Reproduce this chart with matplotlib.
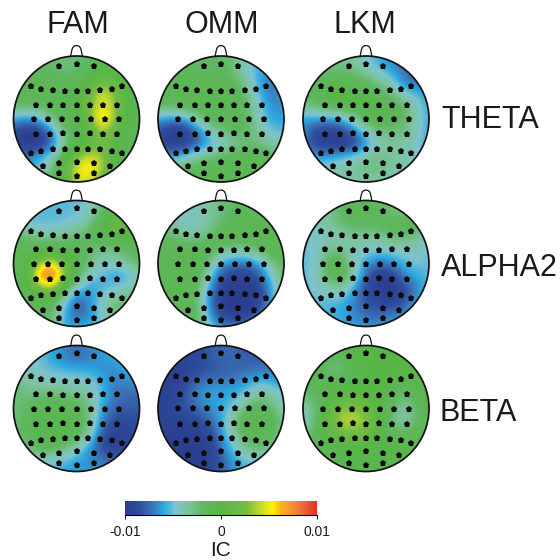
import numpy as np
import matplotlib
matplotlib.use("Agg")
import matplotlib.pyplot as plt
from matplotlib.colors import LinearSegmentedColormap, Normalize
from matplotlib.cm import ScalarMappable
from matplotlib.patches import Circle, PathPatch
from matplotlib.path import Path

plt.rcParams['font.family'] = ['Liberation Sans', 'DejaVu Sans']

conditions = ["FAM", "OMM", "LKM"]
bands = ["THETA", "ALPHA2", "BETA"]

# Electrode positions on the unit head
elec_x = [-.27,0,.27,
          -.72,-.56,-.38,-.18,0,.18,.38,.56,.72,
          -.65,-.42,-.21,0,.21,.42,.65,
          -.68,-.45,-.23,0,.23,.45,.68,
          -.65,-.42,-.21,0,.21,.42,.65,
          -.72,-.56,-.38,-.18,0,.18,.38,.56,.72,
          -.53,-.27,0,.27,.53,
          -.27,0,.27]
elec_y = [.84,.88,.84,
          .52,.47,.46,.44,.44,.44,.46,.47,.52,
          .23,.23,.22,.22,.22,.23,.23,
          0,0,0,0,0,0,0,
          -.24,-.24,-.23,-.24,-.23,-.24,-.24,
          -.54,-.50,-.48,-.47,-.47,-.47,-.48,-.50,-.54,
          -.74,-.70,-.68,-.70,-.74,
          -.86,-.90,-.86]

# Scalp readings by colour; rows run from front (top) to back, columns left to right
theta_fam = [
 [-.2,-.2,-.2,-.2,-.2,-.2,-.15,-.1,-.1,-.1,-.1],
 [-.15,-.15,-.15,-.15,-.2,-.2,-.1,-.05,-.1,-.1,-.1],
 [-.1,-.1,-.1,-.1,-.15,-.1,-.05,.15,.05,-.1,-.1],
 [-.1,-.1,-.1,-.1,-.1,-.05,.1,.4,.2,-.05,-.1],
 [-.15,-.15,-.15,-.1,-.1,-.05,.15,.45,.25,-.05,-.1],
 [-.45,-.55,-.45,-.2,-.1,-.05,.15,.62,.25,-.05,-.1],
 [-.8,-1,-.95,-.6,-.2,-.1,0,.3,.1,-.1,-.1],
 [-.85,-1,-1,-.7,-.25,-.05,.05,.15,0,-.1,-.1],
 [-.7,-.65,-.5,-.35,-.1,.15,.38,.25,0,-.1,-.1],
 [-.55,-.5,-.4,-.2,.05,.45,.55,.3,0,-.1,-.1],
 [-.4,-.4,-.3,-.15,0,.3,.35,.1,-.05,-.1,-.1]]
theta_omm = [
 [-.2,-.2,-.2,-.2,-.15,-.15,-.2,-.3,-.4,-.45,-.5],
 [-.15,-.15,-.15,-.15,-.15,-.15,-.2,-.35,-.45,-.5,-.5],
 [-.1,-.1,-.1,-.1,-.1,-.1,-.15,-.25,-.55,-.65,-.65],
 [-.1,-.1,-.1,-.1,-.1,-.1,-.1,-.2,-.45,-.65,-.6],
 [-.15,-.15,-.1,-.1,-.1,-.1,-.1,-.15,-.35,-.6,-.55],
 [-.45,-.55,-.5,-.25,-.1,-.1,-.1,-.15,-.3,-.55,-.5],
 [-.8,-1,-1,-.7,-.35,-.2,-.15,-.15,-.25,-.4,-.4],
 [-.85,-1,-.95,-.75,-.5,-.35,-.25,-.2,-.2,-.25,-.3],
 [-.55,-.5,-.4,-.25,-.2,-.15,-.1,-.1,-.1,-.15,-.2],
 [-.3,-.2,-.15,-.1,-.1,-.1,-.1,-.1,-.1,-.1,-.15],
 [-.2,-.15,-.15,-.1,-.1,-.1,-.1,-.1,-.1,-.1,-.1]]
theta_lkm = [
 [-.25,-.25,-.25,-.25,-.28,-.35,-.5,-.6,-.65,-.65,-.65],
 [-.2,-.2,-.2,-.2,-.22,-.3,-.42,-.55,-.7,-.7,-.7],
 [-.15,-.1,-.1,-.1,-.12,-.15,-.25,-.35,-.65,-.7,-.7],
 [-.15,-.1,-.05,.05,-.05,-.05,-.1,-.2,-.35,-.45,-.55],
 [-.25,-.15,-.1,-.05,-.05,-.05,-.05,-.1,-.15,-.3,-.5],
 [-.5,-.5,-.5,-.45,-.25,-.1,-.05,-.1,-.15,-.3,-.5],
 [-.6,-.85,-.9,-.85,-.65,-.3,-.2,-.2,-.2,-.3,-.5],
 [-.6,-.9,-1,-1,-.9,-.55,-.3,-.25,-.25,-.35,-.5],
 [-.5,-.5,-.5,-.45,-.35,-.25,-.2,-.25,-.25,-.35,-.45],
 [-.4,-.35,-.3,-.25,-.22,-.2,-.2,-.25,-.3,-.35,-.4],
 [-.4,-.35,-.3,-.28,-.28,-.28,-.28,-.3,-.35,-.4,-.4]]
alpha_fam = [
 [-.4,-.4,-.4,-.4,-.4,-.4,-.35,-.2,-.15,-.15,-.15],
 [-.4,-.4,-.4,-.42,-.42,-.4,-.3,-.15,-.05,-.1,-.1],
 [-.3,-.35,-.4,-.4,-.35,-.3,-.2,-.05,.2,.1,-.05],
 [-.1,-.15,-.2,-.2,-.2,-.15,-.15,-.1,-.05,-.05,-.1],
 [-.1,-.1,-.1,-.05,-.1,-.1,-.15,-.25,-.2,-.15,-.1],
 [-.1,-.1,.2,.55,.1,-.1,-.2,-.3,-.3,-.25,-.15],
 [-.1,-.1,.7,.95,.3,-.1,-.35,-.4,-.55,-.5,-.3],
 [-.1,-.1,.1,.28,-.1,-.35,-.55,-.45,-.35,-.3,-.2],
 [-.15,-.1,-.1,-.1,-.3,-.75,-.6,-.3,-.2,-.15,-.15],
 [-.2,-.15,-.1,-.15,-.45,-.75,-.6,-.35,-.2,-.2,-.2],
 [-.3,-.3,-.2,-.2,-.45,-.5,-.45,-.35,-.25,-.2,-.2]]
alpha_omm = [
 [-.3,-.3,-.3,-.3,-.25,-.2,-.15,-.15,-.15,-.15,-.15],
 [-.3,-.3,-.3,-.3,-.25,-.2,-.15,-.1,-.1,-.1,-.1],
 [-.2,-.25,-.3,-.35,-.25,-.15,-.1,-.1,-.1,-.1,-.1],
 [-.15,-.15,-.2,-.2,-.15,-.1,-.1,-.1,-.1,-.1,-.1],
 [-.15,-.1,-.1,-.1,-.1,-.2,-.25,-.25,-.15,-.1,-.1],
 [-.15,-.1,-.05,-.05,-.2,-.55,-.65,-.65,-.55,-.2,-.15],
 [-.15,-.1,-.05,-.05,-.3,-.8,-.9,-.95,-.75,-.35,-.15],
 [-.15,-.1,-.1,-.1,-.5,-.95,-1,-1,-.9,-.45,-.2],
 [-.2,-.1,-.1,-.15,-.6,-.95,-1,-1,-.95,-.45,-.2],
 [-.25,-.15,-.1,-.1,-.5,-.9,-1,-.95,-.75,-.3,-.2],
 [-.25,-.2,-.15,-.15,-.3,-.55,-.6,-.55,-.4,-.2,-.2]]
alpha_lkm = [
 [-.3,-.3,-.3,-.2,-.12,-.1,-.15,-.2,-.2,-.2,-.2],
 [-.35,-.3,-.25,-.12,-.1,-.1,-.15,-.2,-.2,-.2,-.25],
 [-.35,-.3,-.25,-.2,-.15,-.15,-.15,-.1,-.05,-.1,-.25],
 [-.35,-.35,-.3,-.3,-.25,-.25,-.25,-.2,-.2,-.25,-.35],
 [-.4,-.35,-.2,-.2,-.3,-.35,-.35,-.35,-.3,-.3,-.4],
 [-.4,-.35,-.1,-.1,-.3,-.5,-.7,-.6,-.45,-.35,-.4],
 [-.4,-.35,-.1,-.05,-.25,-.75,-1,-.95,-.6,-.5,-.4],
 [-.4,-.35,-.3,-.25,-.5,-.85,-.95,-1,-.85,-.6,-.4],
 [-.4,-.4,-.4,-.45,-.6,-.8,-.85,-.95,-.8,-.5,-.4],
 [-.4,-.4,-.45,-.5,-.6,-.7,-.7,-.65,-.55,-.45,-.4],
 [-.4,-.4,-.4,-.45,-.5,-.55,-.55,-.5,-.45,-.4,-.4]]
beta_fam = [
 [-.4,-.4,-.4,-.48,-.58,-.68,-.62,-.52,-.45,-.45,-.45],
 [-.32,-.32,-.36,-.5,-.62,-.7,-.62,-.55,-.5,-.45,-.45],
 [-.28,-.32,-.36,-.4,-.42,-.45,-.48,-.58,-.6,-.5,-.45],
 [-.2,-.22,-.28,-.28,-.3,-.3,-.32,-.42,-.65,-.6,-.55],
 [-.2,-.2,-.18,-.15,-.18,-.2,-.25,-.45,-.65,-.7,-.7],
 [-.2,-.15,-.1,-.08,-.08,-.1,-.2,-.5,-.7,-.75,-.75],
 [-.2,-.15,-.05,-.05,-.05,-.1,-.2,-.6,-.85,-.85,-.8],
 [-.2,-.12,-.03,-.05,-.05,-.1,-.25,-.75,-.9,-.9,-.85],
 [-.3,-.2,-.1,-.1,-.15,-.25,-.5,-.85,-.95,-.85,-.8],
 [-.35,-.3,-.3,-.3,-.4,-.5,-.6,-.65,-.7,-.7,-.7],
 [-.4,-.4,-.4,-.45,-.5,-.55,-.55,-.55,-.6,-.6,-.6]]
beta_omm = [
 [-.9,-.9,-.9,-.85,-.75,-.7,-.7,-.75,-.75,-.75,-.75],
 [-.9,-.9,-.9,-.85,-.75,-.7,-.7,-.75,-.75,-.75,-.75],
 [-.9,-.9,-.9,-.85,-.78,-.75,-.72,-.68,-.62,-.65,-.7],
 [-.9,-.9,-.85,-.65,-.6,-.6,-.6,-.5,-.4,-.45,-.5],
 [-.9,-.9,-.8,-.6,-.5,-.5,-.45,-.35,-.2,-.25,-.4],
 [-.9,-.85,-.78,-.7,-.6,-.5,-.35,-.15,-.12,-.15,-.3],
 [-.9,-.9,-.92,-.85,-.7,-.5,-.2,-.05,-.05,-.1,-.25],
 [-.9,-.92,-.95,-.95,-.9,-.55,-.25,-.08,-.08,-.12,-.25],
 [-.9,-.92,-.95,-.95,-.95,-.65,-.35,-.2,-.15,-.2,-.3],
 [-.9,-.92,-.95,-.95,-.95,-.75,-.5,-.35,-.35,-.35,-.4],
 [-.9,-.92,-.95,-.95,-.9,-.75,-.55,-.5,-.45,-.45,-.45]]
beta_lkm = [
 [-.1,-.1,-.1,-.1,-.05,0,0,0,0,0,0],
 [-.1,-.1,-.15,-.15,-.05,0,0,0,0,0,0],
 [-.1,-.1,-.2,-.2,-.1,0,0,0,0,0,0],
 [-.12,-.1,-.1,-.1,-.05,0,0,-.05,-.1,-.05,0],
 [-.2,-.15,-.02,.03,.08,.03,0,-.1,-.2,-.1,-.05],
 [-.3,-.2,.05,.2,.22,.12,0,-.15,-.3,-.15,-.05],
 [-.3,-.18,.1,.3,.32,.22,.02,-.2,-.3,-.15,-.05],
 [-.25,-.12,.05,.15,.17,.12,0,-.1,-.15,-.1,-.05],
 [-.15,-.1,-.1,-.05,0,0,-.02,-.02,-.05,-.05,-.05],
 [-.1,-.1,-.1,-.05,-.05,-.05,-.05,-.05,-.05,-.05,-.05],
 [-.1,-.1,-.1,-.1,-.05,-.05,-.05,-.05,-.05,-.05,-.05]]
maps = [[theta_fam, theta_omm, theta_lkm],
        [alpha_fam, alpha_omm, alpha_lkm],
        [beta_fam, beta_omm, beta_lkm]]

# My colour readings against the reference colour bar (reading -> IC in units of 0.01)
read_scale = [-1, -.9, -.8, -.7, -.6, -.5, -.4, -.3, -.2, -.1, 0, .1, .2, .3, .4, .5, .6, .95]
ic_scale = [-1, -.95, -.85, -.76, -.67, -.6, -.52, -.42, -.25, -.1, 0, .15, .3, .4, .5, .54, .68, .95]

cb_ticks = [-0.01, 0, 0.01]
cb_ticklabels = ["-0.01", "0", "0.01"]

nodes = [(0, "#2b3d8f"), (.075, "#2f4f9f"), (.14, "#3c74b8"), (.2, "#2ba8e0"),
         (.26, "#7cc4cf"), (.33, "#7dc3a0"), (.41, "#5fb860"), (.5, "#58b647"),
         (.63, "#72bd44"), (.71, "#c8da2e"), (.77, "#fff200"), (.81, "#fbb418"),
         (.88, "#f08a3c"), (1, "#e0312c")]
cmap = LinearSegmentedColormap.from_list("ic", nodes)
norm = Normalize(-0.01, 0.01)

W = H = 560
fig = plt.figure(figsize=(W/100, H/100), dpi=100, facecolor="white")

centers_x = [76.5, 221, 366]
centers_y = [119, 263.5, 408.5]
R = 63
half = 1.25

def head_axes(cx, cy):
    s = R * half
    return fig.add_axes([(cx - s)/W, 1 - (cy + s)/H, 2*s/W, 2*s/H])

for r, cy in enumerate(centers_y):
    for c, cx in enumerate(centers_x):
        ax = head_axes(cx, cy)
        ax.axis("off")
        vals = np.interp(np.array(maps[r][c]), read_scale, ic_scale) * 0.01
        im = ax.imshow(vals, extent=(-1.1, 1.1, -1.1, 1.1), cmap=cmap, norm=norm,
                       interpolation="bicubic", interpolation_stage="data", origin="upper",
                       zorder=1)
        clip = Circle((0, 0), 1, transform=ax.transData)
        im.set_clip_path(clip)
        ax.set_xlim(-half, half); ax.set_ylim(-half, half)
        ax.add_patch(Circle((0, 0), 1, fill=False, ec="#111111", lw=1.25, zorder=3))
        nose = Path([(-.1, .985), (-.07, 1.05), (-.09, 1.165), (0, 1.165),
                     (.09, 1.165), (.07, 1.05), (.1, .985)],
                    [Path.MOVETO, Path.CURVE4, Path.CURVE4, Path.CURVE4,
                     Path.CURVE4, Path.CURVE4, Path.CURVE4])
        ax.add_patch(PathPatch(nose, fill=False, ec="#111111", lw=0.9, zorder=3))
        ax.plot(elec_x, elec_y, ls="none", marker="p", ms=4.9, color="#0a0a0a",
                mew=0, zorder=4)

for name, tx in zip(conditions, [78, 222, 365]):
    fig.text(tx/W, 1 - 33/H, name, fontsize=22, ha="center", va="baseline", color="#1a1a1a")
for name, by, tx in zip(bands, [128, 276, 421], [441, 441, 440]):
    fig.text(tx/W, 1 - by/H, name, fontsize=22, ha="left", va="baseline", color="#1a1a1a")

cax = fig.add_axes([125/W, 1 - 515/H, 192/W, 14.5/H])
cb = fig.colorbar(ScalarMappable(norm=norm, cmap=cmap), cax=cax, orientation="horizontal")
cb.outline.set_visible(False)
cb.ax.spines["bottom"].set_visible(True)
cb.set_ticks(cb_ticks, labels=cb_ticklabels)
cb.ax.tick_params(labelsize=10, length=3, width=0.8, pad=4, colors="#1a1a1a")
fig.text(221/W, 1 - 551/H, "IC", fontsize=15, ha="center", va="center", color="#1a1a1a")

fig.savefig("out.png", dpi=100, facecolor="white")
